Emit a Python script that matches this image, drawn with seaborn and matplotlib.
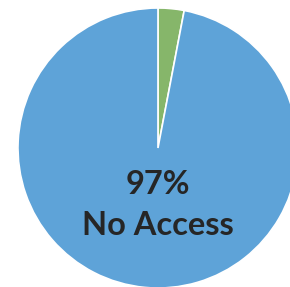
import matplotlib
matplotlib.use("Agg")
import matplotlib.pyplot as plt
import seaborn as sns

# Data
labels = ["Access", "No Access"]
shares = [3, 97]
colors = ["#86b66a", "#5ea3d8"]

sns.set_theme(style="white")
plt.rcParams["font.family"] = ["Lato", "DejaVu Sans"]

fig = plt.figure(figsize=(2.90, 2.87), dpi=100)
ax = fig.add_axes([0.062, -0.0035, 0.9655, 0.9756])

ax.pie(shares, colors=colors, startangle=90, counterclock=False,
       radius=1, wedgeprops={"edgecolor": "white", "linewidth": 1.2})
ax.set_xlim(-1, 1)
ax.set_ylim(-1, 1)
ax.set_aspect("auto")
ax.axis("off")

ax.text(0, -0.26, f"{shares[1]}%", ha="center", va="center",
        fontsize=23.5, fontweight="bold", color="#262626")
ax.text(0, -0.55, labels[1], ha="center", va="center",
        fontsize=23.5, fontweight="bold", color="#262626")

fig.savefig("out.png", dpi=100)
